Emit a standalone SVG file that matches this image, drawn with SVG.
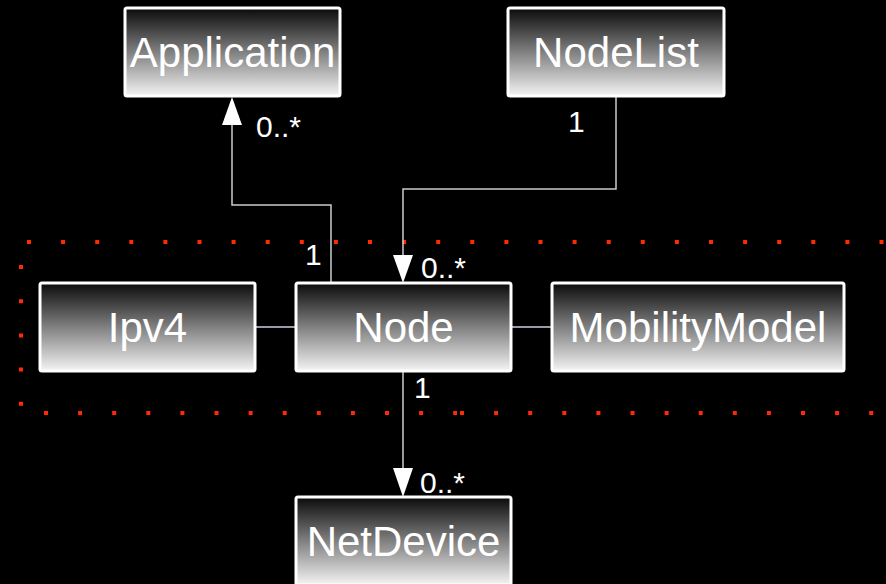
<svg xmlns="http://www.w3.org/2000/svg" width="886" height="584" viewBox="0 0 886 584">
<defs>
<linearGradient id="g" x1="0" y1="0" x2="0" y2="1">
<stop offset="0" stop-color="#0a0a0a"/>
<stop offset="0.5" stop-color="#808080"/>
<stop offset="1" stop-color="#f4f4f4"/>
</linearGradient>
</defs>
<style>
.box{fill:url(#g);stroke:#ffffff;stroke-width:3}
.name{font-family:"Liberation Sans",Arial,sans-serif;font-size:42px;fill:#ffffff;text-anchor:middle}
.lbl{font-family:"Liberation Sans",Arial,sans-serif;font-size:30px;fill:#ffffff}
.con{fill:none;stroke:#cccccc;stroke-width:1.5}
.plain{fill:none;stroke:#9a9aa6;stroke-width:2}
.head{fill:#ffffff}
.dot{fill:none;stroke:#ff2a00;stroke-width:4}
</style>
<rect width="886" height="584" fill="#000000"/>
<g id="boundary">
<line class="dot" x1="27" y1="242" x2="886" y2="242" stroke-dasharray="4 30.1"/>
<line class="dot" x1="21" y1="265" x2="21" y2="406" stroke-dasharray="4 30.2"/>
<line class="dot" x1="44" y1="413" x2="457" y2="413" stroke-dasharray="4 30.1"/>
<line class="dot" x1="460" y1="413" x2="886" y2="413" stroke-dasharray="4 30.1"/>
</g>
<g id="connectors">
<polyline class="con" points="331,283 331,205 232,205 232,120"/>
<polygon class="head" points="232,97 222,125 242,125"/>
<polyline class="con" points="616,96 616,189 403,189 403,260"/>
<polygon class="head" points="403,283 393,255 413,255"/>
<line class="con" x1="403" y1="371" x2="403" y2="470"/>
<polygon class="head" points="403,497 393,468 413,468"/>
<line class="plain" x1="255" y1="327" x2="296" y2="327"/>
<line class="plain" x1="511" y1="327" x2="552" y2="327"/>
<text class="lbl" x="256" y="137">0..*</text>
<text class="lbl" x="568" y="132">1</text>
<text class="lbl" x="305" y="265">1</text>
<text class="lbl" x="421" y="278">0..*</text>
<text class="lbl" x="414" y="398">1</text>
<text class="lbl" x="420" y="493">0..*</text>
</g>
<g id="Application">
<rect class="box" x="125" y="8" width="215" height="88" rx="2"/>
<text class="name" x="232.5" y="67">Application</text>
</g>
<g id="NodeList">
<rect class="box" x="508" y="8" width="216" height="88" rx="2"/>
<text class="name" x="616" y="67">NodeList</text>
</g>
<g id="Ipv4">
<rect class="box" x="40" y="283" width="215" height="88" rx="2"/>
<text class="name" x="147.5" y="342">Ipv4</text>
</g>
<g id="Node">
<rect class="box" x="296" y="283" width="215" height="88" rx="2"/>
<text class="name" x="403.5" y="342">Node</text>
</g>
<g id="MobilityModel">
<rect class="box" x="552" y="283" width="292" height="88" rx="2"/>
<text class="name" x="698" y="342">MobilityModel</text>
</g>
<g id="NetDevice">
<rect class="box" x="296" y="497" width="215" height="88" rx="2"/>
<text class="name" x="403.5" y="556">NetDevice</text>
</g>
</svg>
